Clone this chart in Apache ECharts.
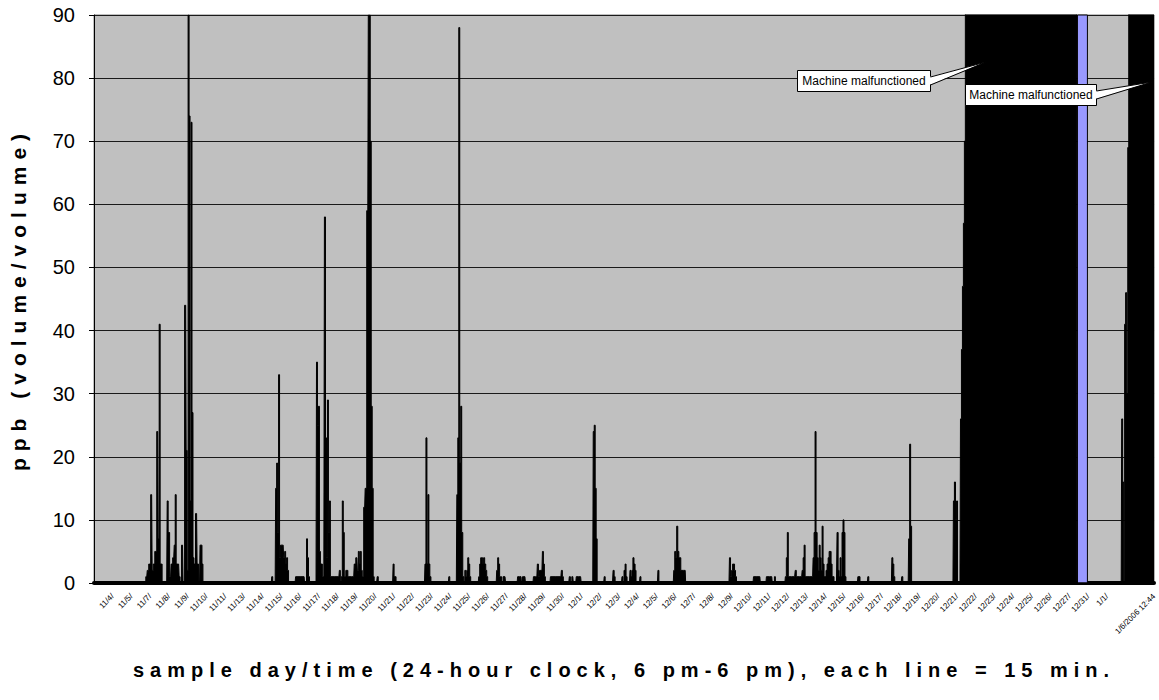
<!DOCTYPE html>
<html>
<head>
<meta charset="utf-8">
<script src="https://cdn.jsdelivr.net/npm/echarts@6/dist/echarts.min.js"></script>
<style>
html, body { margin: 0; padding: 0; background: #ffffff; }
#chart { width: 1159px; height: 700px; }
#chart text[style*="bold"][style*="20px"] { letter-spacing: 6px; }
#chart text[style*="bold"][style*="21px"] { letter-spacing: 7px; }
</style>
</head>
<body>
<div id="chart"></div>
<script>
// x tick labels, one per 96 samples (one day of 15-min samples)
const tickLabels = [
  '11/4/', '11/5/', '11/7/', '11/8/', '11/9/', '11/10/', '11/11/', '11/13/', '11/14/', '11/15/',
  '11/16/', '11/17/', '11/18/', '11/19/', '11/20/', '11/21/', '11/22/', '11/23/', '11/24/', '11/25/',
  '11/26/', '11/27/', '11/28/', '11/29/', '11/30/', '12/1/', '12/2/', '12/3/', '12/4/', '12/5/',
  '12/6/', '12/7/', '12/8/', '12/9/', '12/10/', '12/11/', '12/12/', '12/13/', '12/14/', '12/15/',
  '12/16/', '12/17/', '12/18/', '12/19/', '12/20/', '12/21/', '12/22/', '12/23/', '12/24/', '12/25/',
  '12/26/', '12/27/', '12/31/', '1/1/'
];
const lastLabel = '1/6/2006 12:44';
const labelStep = 96;
const sampleCount = 5424;

// sample index (15-min steps) and ppb reading
const sampleIdx = [
  0,260,270,275,285,295,300,306,316,326,331,336,341,346,351,372,377,382,392,397,408,413,418,423,433,438,443,453,458,
  469,474,479,484,489,494,499,504,509,514,525,530,540,545,550,555,560,
  907,912,917,927,932,937,942,947,952,957,968,973,978,983,988,993,998,1029,1034,1075,1080,1085,1090,1095,1100,1105,
  1136,1141,1146,1151,1156,1161,1176,1182,1187,1192,1197,1202,1207,1212,1253,1258,1263,1268,1273,1278,1283,1294,1304,
  1329,1334,1345,1350,1355,1360,1365,1370,1375,1385,1390,1401,1406,1411,1416,1421,1426,1431,1436,1446,1452,1457,
  1528,1533,1538,1543,1548,1691,1696,1701,1706,1711,1716,1721,1727,1813,1818,1823,1854,1859,1864,1869,1874,1879,1884,
  1890,1895,1900,1905,1910,1915,1920,1925,1930,1966,1971,1976,1981,1986,1991,1996,2002,2007,2012,2017,2058,2063,2068,
  2073,2078,2083,2088,2098,2103,2109,2165,2170,2185,2190,2195,2205,2210,2246,2251,2266,2271,2277,2282,2292,2297,2302,
  2307,2312,2333,2338,2389,2394,2399,2404,2429,2435,2440,2450,2455,2465,2470,2490,2496,2552,2557,2562,2567,2572,2577,
  2608,2613,2618,2653,2659,2664,2669,2699,2704,2709,2715,2720,2725,2730,2740,2745,2750,2755,2760,2766,2771,2776,2791,
  2796,2801,
  2883,2888,2893,2964,2969,2974,2979,2984,2990,2995,3000,3005,3025,3030,3249,3254,3260,3265,3270,3275,3280,3285,3290,
  3372,3377,3407,3412,3438,3443,3468,3473,3479,3484,3489,3535,3540,3545,3550,3555,3585,3591,3596,3621,3626,3631,3636,
  3641,3677,3682,3687,3692,3697,3703,3708,3713,3718,3723,3728,3733,3738,3743,3748,3754,3759,3764,3769,3774,3779,3784,
  3789,3799,3805,3810,3815,3820,3825,3830,3835,3840,3845,3850,3906,3911,3917,3922,3957,3962,3967,4080,4085,4090,4095,
  4100,4130,4136,4141,4166,4171,4176,4181,4186,4395,4400,4405,4411,4416,4421,4431,4436,4441,4446,4451,4456,4461,5027,
  5032,5256,5261,5266,5271,5276,5281,5287,5292,5297,5424
];
const ppb = [
  0,0,1,2,3,14,2,3,5,24,7,41,3,3,0,0,13,8,1,3,4,6,14,3,3,1,0,6,0,
  44,21,2,90,74,13,73,27,4,3,11,3,0,6,6,3,0,
  0,1,0,0,15,19,8,33,4,6,6,4,5,3,4,2,0,0,1,1,0,0,7,4,1,0,
  0,35,25,28,5,3,1,58,23,4,29,8,13,1,1,2,0,1,13,8,1,2,1,
  1,3,4,2,5,3,5,2,1,12,15,59,90,90,70,28,15,1,0,0,1,0,
  0,3,1,1,0,0,3,23,3,14,3,1,0,0,1,0,0,14,23,88,19,28,8,
  1,0,2,1,2,4,3,1,0,0,1,3,4,4,3,4,3,2,1,0,0,2,4,
  3,1,1,0,1,1,0,0,1,1,0,1,1,0,0,1,1,3,1,2,2,5,3,
  1,0,0,1,1,2,1,0,0,1,0,1,0,0,1,1,0,0,24,25,15,7,0,
  0,1,0,0,2,1,0,0,1,0,2,3,1,0,0,2,1,2,4,3,2,0,0,
  1,0,
  0,2,0,0,2,5,4,9,5,4,4,2,2,0,0,4,1,2,3,3,2,1,0,
  0,1,1,0,0,1,1,0,0,1,0,0,1,4,8,1,1,2,1,1,2,4,6,
  1,1,4,8,24,8,4,2,6,4,2,9,3,1,1,2,3,4,5,5,3,1,1,
  0,0,8,2,1,4,1,8,10,8,1,0,0,1,1,0,0,1,0,0,4,3,1,
  0,0,1,0,0,7,22,9,0,0,13,16,10,13,0,0,26,37,47,57,70,100,100,
  0,0,26,16,0,41,46,30,69,100,100
];
// sample range shown as the blue band
const blueBand = [5032, 5083];

const points = sampleIdx.map((s, i) => [s, ppb[i]]);
const FONT = 'Liberation Sans';

const chart = echarts.init(document.getElementById('chart'), null, { renderer: 'svg' });
chart.setOption({
  animation: false,
  backgroundColor: '#ffffff',
  grid: {
    left: 94, right: 0, top: 15, bottom: 117,
    show: true, backgroundColor: '#c0c0c0', borderColor: '#808080', borderWidth: 1
  },
  xAxis: {
    type: 'value',
    min: 0, max: sampleCount, interval: labelStep,
    name: 'sample day/time (24-hour clock, 6 pm-6 pm), each line = 15 min.',
    nameLocation: 'middle', nameGap: 77,
    nameTextStyle: { fontSize: 20, fontWeight: 'bold', color: '#000', fontFamily: FONT },
    axisLine: { show: true, onZero: false, lineStyle: { color: '#000', width: 4 } },
    axisTick: { show: false },
    splitLine: { show: false },
    axisLabel: {
      rotate: 45, fontSize: 8, color: '#000', fontFamily: FONT, margin: 12,
      showMinLabel: true, showMaxLabel: true,
      formatter: function (v) {
        if (v >= sampleCount) return lastLabel;
        const k = Math.round(v / labelStep);
        return (k >= 1 && k <= tickLabels.length) ? tickLabels[k - 1] : '';
      }
    }
  },
  yAxis: {
    type: 'value', min: 0, max: 90, interval: 10,
    name: 'ppb (volume/volume)',
    nameLocation: 'middle', nameGap: 65,
    nameTextStyle: { fontSize: 21, fontWeight: 'bold', color: '#000', fontFamily: FONT },
    axisLine: { show: true, lineStyle: { color: '#000', width: 1 } },
    axisTick: { show: true, length: 5, lineStyle: { color: '#000' } },
    axisLabel: { fontSize: 20, color: '#000', fontFamily: FONT, margin: 19 },
    splitLine: { show: true, lineStyle: { color: '#1a1a1a', width: 1 } }
  },
  series: [{
    type: 'line',
    data: points,
    step: 'middle',
    symbol: 'none',
    clip: true,
    lineStyle: { color: '#000', width: 1 },
    itemStyle: { color: '#000' },
    areaStyle: { color: '#000', opacity: 1 },
    markArea: {
      silent: true,
      itemStyle: { color: '#9999ff', borderColor: '#000', borderWidth: 1 },
      data: [[{ xAxis: blueBand[0] }, { xAxis: blueBand[1] }]]
    }
  }],
  graphic: [
    { type: 'rect', shape: { x: 797.5, y: 70.5, width: 133, height: 21 }, style: { fill: '#fff', stroke: '#000', lineWidth: 1 }, z: 10 },
    { type: 'polygon', shape: { points: [[929, 77], [986, 62], [929, 85]] }, style: { fill: '#fff' }, z: 11 },
    { type: 'polyline', shape: { points: [[930.5, 77], [986, 62], [930.5, 85]] }, style: { stroke: '#000', lineWidth: 1, fill: null }, z: 12 },
    { type: 'text', x: 864, y: 81, style: { text: 'Machine malfunctioned', font: '12px Liberation Sans', fill: '#000', textAlign: 'center', textVerticalAlign: 'middle' }, z: 13 },
    { type: 'rect', shape: { x: 965.5, y: 84.5, width: 131, height: 21 }, style: { fill: '#fff', stroke: '#000', lineWidth: 1 }, z: 10 },
    { type: 'polygon', shape: { points: [[1095, 91], [1152, 82], [1095, 99]] }, style: { fill: '#fff' }, z: 11 },
    { type: 'polyline', shape: { points: [[1096.5, 91], [1152, 82], [1096.5, 99]] }, style: { stroke: '#000', lineWidth: 1, fill: null }, z: 12 },
    { type: 'text', x: 1031, y: 95, style: { text: 'Machine malfunctioned', font: '12px Liberation Sans', fill: '#000', textAlign: 'center', textVerticalAlign: 'middle' }, z: 13 }
  ]
});
</script>
</body>
</html>
